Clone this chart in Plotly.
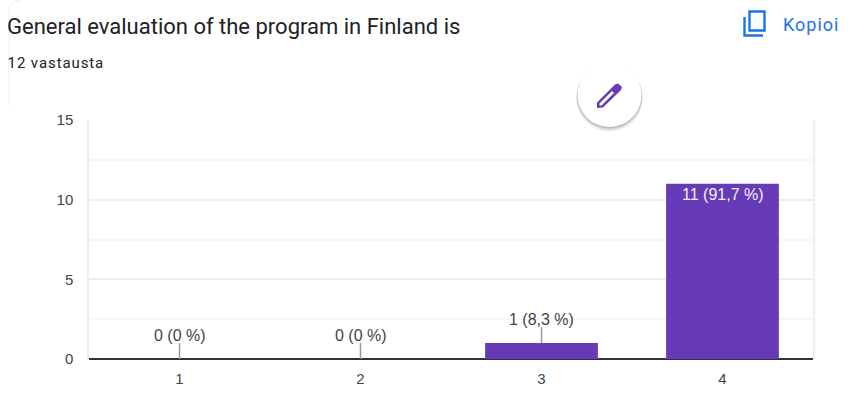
import plotly.graph_objects as go

categories = ["1", "2", "3", "4"]
values = [0, 0, 1, 11]
labels = ["0 (0 %)", "0 (0 %)", "1 (8,3 %)", "11 (91,7 %)"]
y_ticks = [0, 5, 10, 15]
title_text = "General evaluation of the program in Finland is"
subtitle_text = "12 vastausta"
copy_text = "Kopioi"

W, H = 851, 419
L, R, T, B = 89, 813, 120, 359
PURPLE = "#673ab7"
BLUE = "#1a73e8"
INK = "#444444"
LABEL_FONT = "Liberation Sans, Arial, sans-serif"


def fx(px):
    return (px - L) / (R - L)


def fy(py):
    return (B - py) / (B - T)


def pth(points, close=False):
    s = "M" + " L".join(f"{fx(x):.5f},{fy(y):.5f}" for x, y in points)
    return s + (" Z" if close else "")


fig = go.Figure()
fig.add_bar(
    x=categories, y=values, width=0.623,
    marker=dict(color=PURPLE, line=dict(width=0)),
    hoverinfo="skip",
)

# leader lines above the small bars
small = [i for i, v in enumerate(values) if v < 5]
fig.add_scatter(
    x=[categories[i] for i in small],
    y=[values[i] for i in small],
    mode="markers",
    marker=dict(size=1, opacity=0),
    error_y=dict(type="data", symmetric=False,
                 array=[1.0 for _ in small], arrayminus=[0 for _ in small],
                 color="#999999", thickness=1.5, width=0),
    hoverinfo="skip",
)

annotations = []
for i, (v, t) in enumerate(zip(values, labels)):
    inside = v >= 5
    annotations.append(dict(
        x=i, y=v, xref="x", yref="y", text=t, showarrow=False,
        yanchor="middle", yshift=-11 if inside else 24,
        font=dict(family=LABEL_FONT, size=16, color="#f2f2f2" if inside else INK),
    ))


def page_text(x, y, text, size, color, family, anchor="left"):
    annotations.append(dict(
        x=fx(x), y=fy(y), xref="paper", yref="paper", text=text,
        showarrow=False, xanchor=anchor, yanchor="middle",
        font=dict(family=family, size=size, color=color),
        borderpad=0, borderwidth=0,
    ))


page_text(7, 26, title_text, 22, "#202124", "Roboto")
page_text(13, 63, subtitle_text, 15, "#202124", "Roboto")
page_text(785.5, 24, copy_text, 18, BLUE, "Roboto")

shapes = []
# card edge, top-left
shapes.append(dict(type="path", xref="paper", yref="paper", layer="below",
                   path=pth([(20, 0), (13, 2), (10, 6), (9, 12), (9, 105)]),
                   line=dict(color="#eeeeee", width=1)))
# floating button shadow and disc
for off, grow, op in [(3, 1.5, 0.08), (2, 1, 0.12), (1, 0.5, 0.18)]:
    shapes.append(dict(type="circle", xref="paper", yref="paper", layer="above",
                       x0=fx(577.5 - grow), x1=fx(641.5 + grow),
                       y0=fy(127 + off + grow), y1=fy(63 + off - grow),
                       fillcolor=f"rgba(60,60,60,{op})", line=dict(width=0)))
shapes.append(dict(type="circle", xref="paper", yref="paper", layer="above",
                   x0=fx(577.5), x1=fx(641.5), y0=fy(127), y1=fy(63),
                   fillcolor="white", line=dict(width=0)))
# pencil icon
shapes.append(dict(type="path", xref="paper", yref="paper", layer="above",
                   path=pth([(597, 108), (597, 102.5), (612, 87.5), (615, 84.5),
                             (618, 83.5), (622, 87), (621, 90), (603, 107.5)], True),
                   fillcolor=PURPLE, line=dict(width=0)))
shapes.append(dict(type="path", xref="paper", yref="paper", layer="above",
                   path=pth([(599.5, 105.5), (599.5, 103.5), (612, 91), (614, 93), (601.5, 105.5)], True),
                   fillcolor="white", line=dict(width=0)))
# copy icon
shapes.append(dict(type="path", xref="paper", yref="paper", layer="above",
                   path=pth([(744.5, 17), (744.5, 35.5), (763, 35.5)]),
                   line=dict(color=BLUE, width=2.4)))
shapes.append(dict(type="rect", xref="paper", yref="paper", layer="above",
                   x0=fx(749.5), x1=fx(764.5), y0=fy(30.5), y1=fy(11.5),
                   line=dict(color=BLUE, width=2.4), fillcolor="rgba(0,0,0,0)"))

fig.update_layout(
    width=W, height=H, autosize=False,
    margin=dict(l=L, r=W - R, t=T, b=H - B, pad=0),
    paper_bgcolor="white", plot_bgcolor="white",
    showlegend=False, bargap=0.377,
    annotations=annotations, shapes=shapes,
    font=dict(family=LABEL_FONT, size=15, color=INK),
    xaxis=dict(
        type="category", categoryorder="array", categoryarray=categories,
        range=[-0.5, 3.5], showgrid=False, showline=False, ticks="",
        tickfont=dict(family=LABEL_FONT, size=15, color=INK), ticklabelstandoff=9,
        fixedrange=True,
    ),
    yaxis=dict(
        range=[0, 15], tickvals=y_ticks, ticks="",
        gridcolor="#eeeeee", gridwidth=1.5,
        minor=dict(dtick=2.5, showgrid=True, gridcolor="#f6f6f6", gridwidth=1.5, ticks=""),
        showline=True, linecolor="#eeeeee", linewidth=1.5, mirror=True,
        zeroline=True, zerolinecolor="#333333", zerolinewidth=2,
        tickfont=dict(family=LABEL_FONT, size=15, color=INK), ticklabelstandoff=11,
        fixedrange=True,
    ),
)
post = """
document.body.style.margin = '0';
document.querySelectorAll('.annotation-text').forEach(function (t) {
  var s = t.textContent;
  if (s === '12 vastausta') { t.style.letterSpacing = '0.9px'; }
  if (s === 'Kopioi') { t.style.letterSpacing = '1px'; }
});
"""
fig.write_html("out.html", config=dict(displayModeBar=False), post_script=post)
